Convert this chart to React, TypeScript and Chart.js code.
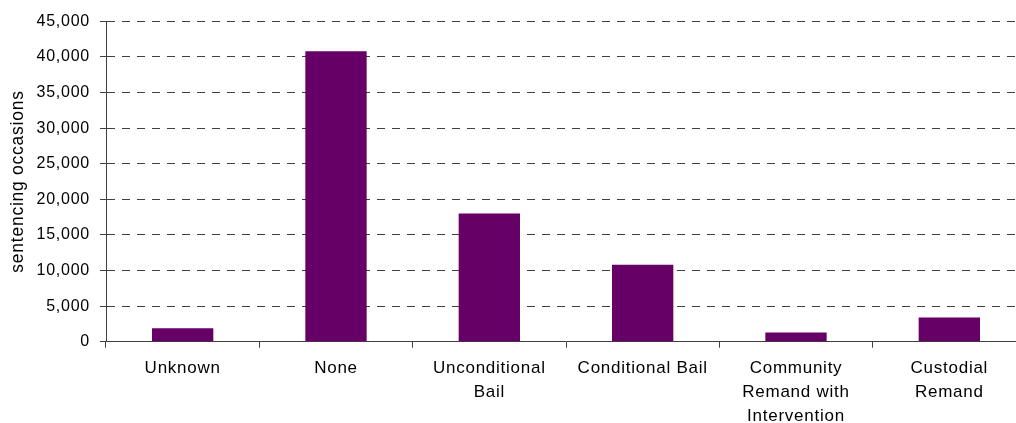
import React, { useEffect, useRef } from "react";
import { Chart, registerables } from "chart.js";

Chart.register(...registerables);

// Remand status at sentencing
const categories: (string | string[])[] = [
  "Unknown",
  "None",
  ["Unconditional", "Bail"],
  "Conditional Bail",
  ["Community", "Remand with", "Intervention"],
  ["Custodial", "Remand"],
];
const occasions: number[] = [1900, 40800, 18000, 10800, 1300, 3400];

const yMin = 0;
const yMax = 45000;
const yStep = 5000;

const BAR_COLOR = "#660066";
const LINE_COLOR = "#404040";
const TEXT_COLOR = "#000000";
const FONT = "'Liberation Sans', Arial, sans-serif";

// Slightly widened glyph spacing for all canvas text
const spacingPlugin = {
  id: "textSpacing",
  beforeDraw(chart: Chart) {
    (chart.ctx as any).letterSpacing = "0.75px";
  },
};

export default function App() {
  const canvasRef = useRef<HTMLCanvasElement | null>(null);

  useEffect(() => {
    const canvas = canvasRef.current;
    if (!canvas) return;
    const chart = new Chart(canvas, {
      type: "bar",
      data: {
        labels: categories,
        datasets: [
          {
            label: "sentencing occasions",
            data: occasions,
            backgroundColor: BAR_COLOR,
            borderWidth: 0,
            barPercentage: 0.4,
            categoryPercentage: 1,
          },
        ],
      },
      options: {
        animation: false,
        responsive: false,
        devicePixelRatio: 1,
        layout: { padding: { left: 0, top: 21.3, right: 0, bottom: 0 } },
        plugins: {
          legend: { display: false },
          tooltip: { enabled: false },
        },
        scales: {
          x: {
            offset: true,
            grid: {
              display: true,
              offset: true,
              drawOnChartArea: false,
              drawTicks: true,
              tickLength: 6,
              color: LINE_COLOR,
              lineWidth: 1,
            },
            border: { display: true, color: LINE_COLOR, width: 1 },
            ticks: {
              color: TEXT_COLOR,
              padding: 9,
              maxRotation: 0,
              minRotation: 0,
              autoSkip: false,
              font: { family: FONT, size: 17, lineHeight: 1.4 },
            },
            afterFit(scale: any) {
              scale.height = 81.3;
            },
          },
          y: {
            min: yMin,
            max: yMax,
            grid: {
              color: (ctx: any) =>
                ctx.tick && ctx.tick.value === 0 ? "rgba(0,0,0,0)" : LINE_COLOR,
              lineWidth: 1,
              drawTicks: true,
              tickLength: 6,
              tickColor: LINE_COLOR,
              tickBorderDash: [],
            },
            // dashed horizontal grid lines; the axis line itself stays solid
            border: {
              display: true,
              color: LINE_COLOR,
              width: 1,
              dash: [8, 7],
              dashOffset: 0,
            },
            ticks: {
              stepSize: yStep,
              color: TEXT_COLOR,
              padding: 10,
              font: { family: FONT, size: 16 },
              callback: (v: any) => Number(v).toLocaleString("en-US"),
            },
            title: {
              display: true,
              text: "sentencing occasions",
              color: TEXT_COLOR,
              padding: { top: 8, bottom: 0 },
              font: { family: FONT, size: 17.5, lineHeight: 1.2 },
            },
            afterFit(scale: any) {
              scale.width = 106;
            },
          },
        },
      },
      plugins: [spacingPlugin],
    });
    return () => chart.destroy();
  }, []);

  return (
    <div
      style={{
        position: "fixed",
        left: 0,
        top: 0,
        width: 1016,
        height: 423,
        overflow: "hidden",
        background: "#ffffff",
      }}
    >
      <canvas
        ref={canvasRef}
        width={1026}
        height={423}
        style={{ display: "block", width: 1026, height: 423 }}
      />
    </div>
  );
}
